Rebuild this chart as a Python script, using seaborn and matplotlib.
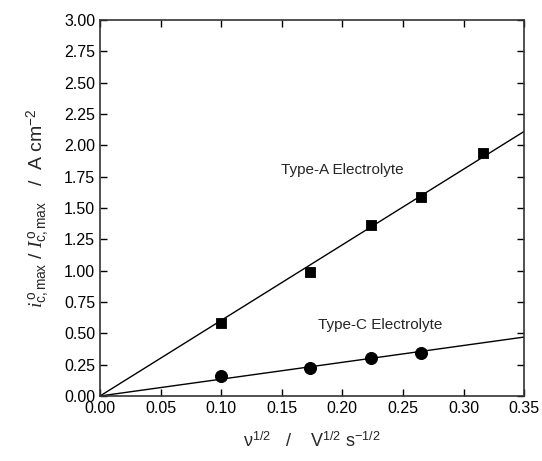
import numpy as np
import pandas as pd
import matplotlib
matplotlib.use('Agg')
import matplotlib.pyplot as plt
import seaborn as sns

# data
x_a = [0.100, 0.173, 0.224, 0.265, 0.316]
y_a = [0.58, 0.99, 1.36, 1.59, 1.94]
x_c = [0.100, 0.173, 0.224, 0.265]
y_c = [0.16, 0.22, 0.30, 0.34]

# fitted lines (endpoints)
fit_x = [0.0, 0.35]
fit_a = [0.0, 2.11]
fit_c = [0.0, 0.47]

sns.set_style('ticks')
plt.rcParams['font.family'] = ['Liberation Sans', 'DejaVu Sans']
plt.rcParams['mathtext.fontset'] = 'custom'
plt.rcParams['mathtext.rm'] = 'Liberation Sans'
plt.rcParams['mathtext.it'] = 'Liberation Serif:italic'

fig = plt.figure(figsize=(5.42, 4.61), dpi=100)
ax = fig.add_axes([0.1845, 0.141, 0.7825, 0.816])

df_a = pd.DataFrame({'x': x_a, 'y': y_a})
df_c = pd.DataFrame({'x': x_c, 'y': y_c})

sns.lineplot(x=fit_x, y=fit_a, ax=ax, color='black', lw=1.0)
sns.lineplot(x=fit_x, y=fit_c, ax=ax, color='black', lw=1.0)
sns.scatterplot(data=df_a, x='x', y='y', ax=ax, marker='s', s=60, color='black', edgecolor='black', zorder=3)
sns.scatterplot(data=df_c, x='x', y='y', ax=ax, marker='o', s=75, color='black', edgecolor='black', zorder=3)

ax.text(0.149, 1.80, 'Type-A Electrolyte', fontsize=11, va='center', ha='left')
ax.text(0.180, 0.57, 'Type-C Electrolyte', fontsize=11, va='center', ha='left')

ax.set_xlim(0, 0.35)
ax.set_ylim(0, 3.0)
ax.set_xticks(np.arange(0, 0.351, 0.05))
ax.set_yticks(np.arange(0, 3.01, 0.25))
ax.xaxis.set_major_formatter(matplotlib.ticker.FormatStrFormatter('%.2f'))
ax.yaxis.set_major_formatter(matplotlib.ticker.FormatStrFormatter('%.2f'))
ax.tick_params(direction='in', top=True, right=True, length=5, width=1, labelsize=11.5, colors='black')
for sp in ax.spines.values():
    sp.set_linewidth(1.2)
    sp.set_color('#333333')

ax.set_xlabel(r'$\mathrm{\nu}^{1/2}$   /    V$^{1/2}$ s$^{-1/2}$', fontsize=13, labelpad=11)
ax.set_ylabel(r'$i^{\,\mathrm{o}}_{\mathrm{c,max}}$ / $I^{\,\mathrm{o}}_{\mathrm{c,max}}$   /  A cm$^{-2}$', fontsize=14, labelpad=9)

fig.savefig('out.png', dpi=100)
